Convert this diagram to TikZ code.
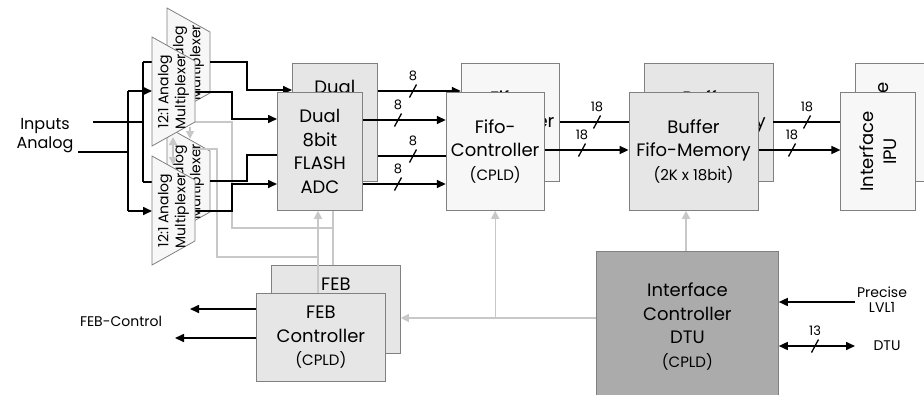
\documentclass[tikz,border=0pt]{standalone}
\usepackage{fontspec}
\setmainfont{Poppins}
\usetikzlibrary{arrows.meta,positioning,calc}
\definecolor{edgegray}{HTML}{808080}
\definecolor{palegray}{HTML}{E6E6E6}
\definecolor{offwhite}{HTML}{F7F7F7}
\definecolor{midgray}{HTML}{ABABAB}
\definecolor{ctlgray}{HTML}{C8C8C8}
\pgfdeclarelayer{rear}
\pgfdeclarelayer{wires}
\pgfsetlayers{rear,wires,main}
\newcommand{\cpld}{{\fontsize{15}{18}\selectfont(CPLD)}}

\begin{document}
\begin{tikzpicture}[x=1pt,y=-1pt,node distance=83pt,
  every node/.style={font=\fontsize{18}{23.5}\selectfont,align=center,inner sep=0pt},
  lt/.style={draw=edgegray,line width=0.8pt,fill=palegray,minimum height=118pt},
  wt/.style={draw=edgegray,line width=0.8pt,fill=offwhite,minimum height=118pt},
  dk/.style={draw=edgegray,line width=0.8pt,fill=midgray},
  muxbox/.style={draw=edgegray,line width=0.8pt,fill=offwhite},
  mx/.style={font=\fontsize{14}{17}\selectfont,rotate=90},
  sm/.style={font=\fontsize{13}{16}\selectfont},
  wire/.style={line width=1.6pt},
  bus/.style={wire,-{Triangle[length=9pt,width=8pt]}},
  ctl/.style={draw=ctlgray,line width=1.3pt},
  ctlarr/.style={ctl,-{Triangle[length=8pt,width=8pt]}},
  pics/wmark/.style={code={
    \draw[line width=1.3pt] (-3.5,6.5) -- (3.5,-6.5);
    \node[sm] at (0,-15) {#1};}}
]
\useasboundingbox (0,0) rectangle (924,394);
\clip (0,0) rectangle (924,394);

% front row
\node[lt,minimum width=85pt,anchor=north west] (adc) at (277,92) {Dual\\8bit\\FLASH\\ADC};
\node[wt,minimum width=98pt,right=of adc] (fifo) {Fifo-\\Controller\\\cpld};
\node[lt,minimum width=129pt,right=84pt of fifo] (buf) {Buffer\\Fifo-Memory\\{\fontsize{15}{18}\selectfont(2K x 18bit)}};
\node[wt,minimum width=75pt,right=82pt of buf] (ipu) {};
\node[rotate=90] (iputxt) at (ipu) {Interface\\IPU};
\node[lt,minimum width=129pt,minimum height=88pt,anchor=north west] (feb) at (256,293) {FEB\\Controller\\\cpld};
\node[dk,minimum width=182pt,minimum height=150pt,anchor=north west] (dtu) at (596,251) {Interface\\Controller\\DTU\\\cpld};

\draw[muxbox] (152,37) -- (195,61) -- (195,122) -- (152,146) -- cycle;
\node[mx] (muxu) at (173.5,91.5) {12:1 Analog\\Multiplexer};
\draw[muxbox] (152,156) -- (195,180) -- (195,241) -- (152,265) -- cycle;
\node[mx] (muxl) at (173.5,210.5) {12:1 Analog\\Multiplexer};

% second board, behind
\begin{pgfonlayer}{rear}
\draw[muxbox] (167,8) -- (210,32) -- (210,93) -- (167,117) -- cycle;
\node[mx] (muxub) at (188.5,62.5) {12:1 Analog\\Multiplexer};
\draw[muxbox] (167,127) -- (210,151) -- (210,212) -- (167,236) -- cycle;
\node[mx] (muxlb) at (188.5,181.5) {12:1 Analog\\Multiplexer};
\node[lt,minimum width=85pt,anchor=north west] (adcb) at ([shift={(15,-29)}]adc.north west) {Dual\\8bit\\FLASH\\ADC};
\node[wt,minimum width=98pt,anchor=north west] (fifob) at ([shift={(15,-29)}]fifo.north west) {Fifo-\\Controller\\\cpld};
\node[lt,minimum width=129pt,anchor=north west] (bufb) at ([shift={(15,-29)}]buf.north west) {Buffer\\Fifo-Memory\\{\fontsize{15}{18}\selectfont(2K x 18bit)}};
\node[wt,minimum width=75pt,anchor=north west] (ipub) at ([shift={(15,-29)}]ipu.north west) {};
\node[rotate=90] (ipubtxt) at (ipub) {Interface\\IPU};
\node[lt,minimum width=129pt,minimum height=88pt,anchor=north west] (febb) at ([shift={(15,-28)}]feb.north west) {FEB\\Controller\\\cpld};
\end{pgfonlayer}

\begin{pgfonlayer}{wires}
% control lines
\draw[ctlarr] (dtu.west|-0,318) -- (febb.east|-0,318);
\draw[ctlarr] (fifo.south|-0,318) -- (fifo.south);
\draw[ctlarr] (dtu.north-|686,0) -- (buf.south-|686,0);
\draw[ctlarr] (feb.north-|318,0) -- (adc.south-|318,0);
\draw[ctl] (febb.north-|333,0) -- (adc.south-|333,0);
\draw[ctl] (333,228) -- (232,228) -- (232,122) -- (195,122);
\draw[ctl] (318,257) -- (217,257) -- (217,149) -- (192,149);
\draw[ctlarr] (190,127) -- (190,139);
\draw[ctl,{Triangle[length=8pt,width=8pt]}-{Triangle[length=8pt,width=8pt]}] (173,137) -- (173,165);

% analog inputs
\node[font=\fontsize{16}{19}\selectfont] (inp) at (45,136) {Inputs\\Analog};
\coordinate (in1) at (93,122);
\coordinate (in2) at (78,152);
\draw[wire] (in1) -- (143,122);
\draw[wire] (in2) -- (128,152);
\draw[wire] (143,62) -- (143,182);
\draw[wire] (128,91) -- (128,211);
\draw[bus] (143,62) -- (167,62);
\draw[bus] (143,182) -- (167,182);
\draw[bus] (128,91) -- (152,91);
\draw[bus] (128,211) -- (152,211);

% multiplexer to adc
\draw[bus] (210,62) -- (247,62) -- (247,90) -- (adcb.west|-0,90);
\draw[bus] (195,92) -- (232,92) -- (232,119) -- (adc.west|-0,119);
\draw[bus] (210,181) -- (247,181) -- (247,155) -- (adcb.west|-0,155);
\draw[bus] (195,211) -- (232,211) -- (232,184) -- (adc.west|-0,184);

% data path
\draw[bus] (adcb.east|-0,91) -- (fifob.west|-0,91);
\pic at (413,91) {wmark=8};
\draw[bus] (adc.east|-0,120) -- (fifo.west|-0,120);
\pic at (398,120) {wmark=8};
\draw[bus] (adcb.east|-0,156) -- (fifob.west|-0,156);
\pic at (413,156) {wmark=8};
\draw[bus] (adc.east|-0,184) -- (fifo.west|-0,184);
\pic at (398,184) {wmark=8};
\draw[bus] (fifob.east|-0,122) -- (bufb.west|-0,122);
\pic at (597,122) {wmark=18};
\draw[bus] (fifo.east|-0,150) -- (buf.west|-0,150);
\pic at (582,150) {wmark=18};
\draw[bus] (bufb.east|-0,122) -- (ipub.west|-0,122);
\pic at (807,122) {wmark=18};
\draw[bus] (buf.east|-0,150) -- (ipu.west|-0,150);
\pic at (792,150) {wmark=18};

% feb control
\coordinate (fc1) at (190,309);
\coordinate (fc2) at (175,338);
\draw[bus] (feb.west|-fc1) -- (fc1);
\draw[bus] (feb.west|-fc2) -- (fc2);
\node[font=\fontsize{14}{17}\selectfont] (febctl) at (121,321) {FEB-Control};

% trigger and dtu
\node[font=\fontsize{14}{15}\selectfont] (lvl) at (882,300) {Precise\\LVL1};
\node[font=\fontsize{14}{17}\selectfont] (dtuext) at (887,346) {DTU};
\coordinate (lv) at (855,302);
\coordinate (dx) at (855,346);
\draw[bus] (lv) -- (dtu.east|-lv);
\draw[wire,{Triangle[length=9pt,width=8pt]}-{Triangle[length=9pt,width=8pt]}] (dtu.east|-dx) -- (dx);
\pic at (815,346) {wmark=13};
\end{pgfonlayer}
\end{tikzpicture}
\end{document}
